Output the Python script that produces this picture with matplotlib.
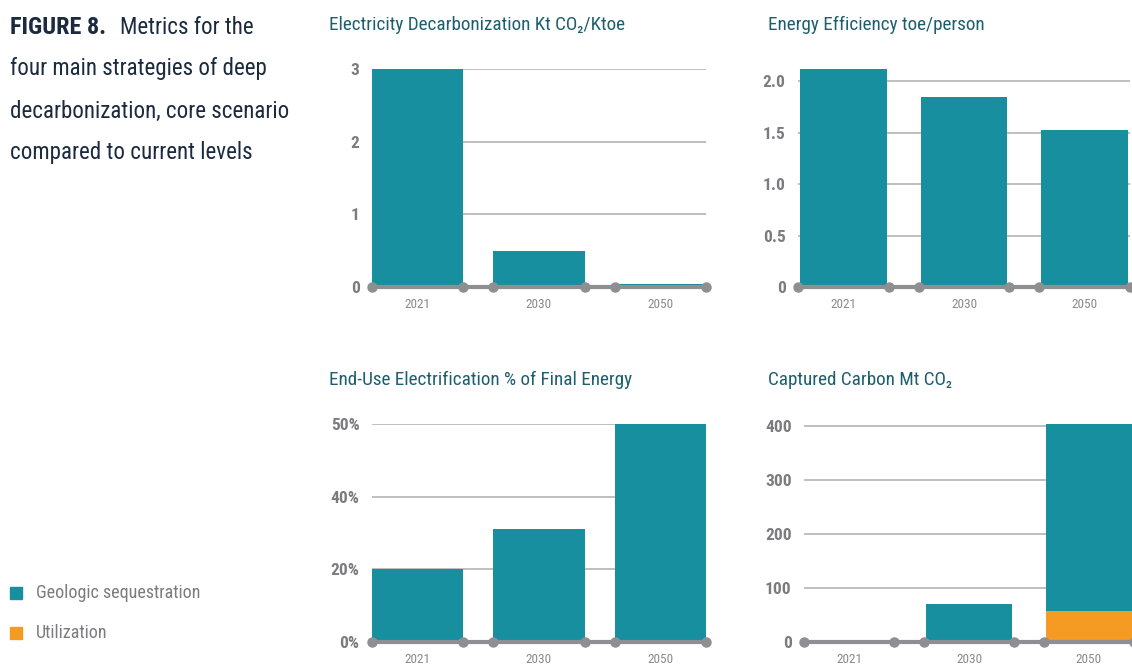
import matplotlib
matplotlib.use("Agg")
import matplotlib.pyplot as plt
from matplotlib import font_manager

years = ["2021", "2030", "2050"]

elec_decarb = [3.0, 0.50, 0.04]
energy_eff = [2.12, 1.85, 1.53]
electrification = [20, 31, 60]
geologic = [0, 70, 347]
utilization = [0, 0, 57]

elec_ticks = [0, 1, 2, 3]
elec_ticklabels = ["0", "1", "2", "3"]
eff_ticks = [0, 0.5, 1.0, 1.5, 2.0]
eff_ticklabels = ["0", "0.5", "1.0", "1.5", "2.0"]
electr_ticks = [0, 20, 40, 60]
electr_ticklabels = ["0%", "20%", "40%", "50%"]
carbon_ticks = [0, 100, 200, 300, 400]
carbon_ticklabels = ["0", "100", "200", "300", "400"]

TEAL = "#178f9f"
ORANGE = "#f59a23"
TITLE = "#1d5f6e"
NAVY = "#1b2a3f"
AXIS_GRAY = "#8e8e93"
GRID_GRAY = "#b4b4b4"
LABEL_GRAY = "#7c7c80"

installed = {f.name for f in font_manager.fontManager.ttflist}
narrow = [f for f in ["Liberation Sans Narrow", "Roboto Condensed", "Open Sans Condensed"] if f in installed]
FONT = narrow + ["Roboto", "DejaVu Sans"]
plt.rcParams["font.family"] = FONT

W, H = 1132, 666
fig = plt.figure(figsize=(W / 100, H / 100), dpi=100)


def add_panel(left, top, right, bottom, ymax, ticks, ticklabels):
    ax = fig.add_axes([left / W, 1 - bottom / H, (right - left) / W, (bottom - top) / H])
    ax.set_xlim(-0.375, 2.375)
    ax.set_ylim(0, ymax)
    for s in ax.spines.values():
        s.set_visible(False)
    ax.set_yticks(ticks)
    ax.set_yticklabels(ticklabels, fontsize=12.5, fontweight="bold", color=LABEL_GRAY)
    ax.set_xticks(range(len(years)))
    ax.set_xticklabels(years, fontsize=9.5, color="#8a8a8a")
    ax.tick_params(length=0, axis="y", pad=9)
    ax.tick_params(length=0, axis="x", pad=8)
    for t in ticks[1:]:
        ax.axhline(t, color=GRID_GRAY, lw=1.2, zorder=0)
    return ax


def finish_axis(ax):
    # base line with round markers at each bar edge
    ax.axhline(0, color=AXIS_GRAY, lw=3, zorder=4, clip_on=False)
    xs = []
    for i in range(len(years)):
        xs += [i - 0.375, i + 0.375]
    ax.plot(xs, [0] * len(xs), "o", color=AXIS_GRAY, ms=6.5, zorder=5, clip_on=False)


# Electricity decarbonization
ax1 = add_panel(372, 69, 706, 287, 3.0, elec_ticks, elec_ticklabels)
ax1.bar(range(3), elec_decarb, width=0.75, color=TEAL, zorder=2)
finish_axis(ax1)
fig.text(329 / W, 1 - 25 / H, "Electricity Decarbonization Kt CO\u2082/Ktoe",
         fontsize=13.8, color=TITLE, va="center", ha="left")

# Energy efficiency
ax2 = add_panel(798, 69, 1130, 287, 2.12, eff_ticks, eff_ticklabels)
ax2.bar(range(3), energy_eff, width=0.72, color=TEAL, zorder=2)
finish_axis(ax2)
fig.text(768 / W, 1 - 25 / H, "Energy Efficiency toe/person",
         fontsize=13.8, color=TITLE, va="center", ha="left")

# End-use electrification
ax3 = add_panel(372, 424, 706, 642, 60, electr_ticks, electr_ticklabels)
ax3.bar(range(3), electrification, width=0.75, color=TEAL, zorder=2)
finish_axis(ax3)
fig.text(329 / W, 1 - 380 / H, "End-Use Electrification % of Final Energy",
         fontsize=13.8, color=TITLE, va="center", ha="left")

# Captured carbon, stacked
ax4 = add_panel(804, 424, 1134, 642, 404, carbon_ticks, carbon_ticklabels)
ax4.bar(range(3), utilization, width=0.72, color=ORANGE, zorder=2)
ax4.bar(range(3), geologic, bottom=utilization, width=0.72, color=TEAL, zorder=2)
finish_axis(ax4)
fig.text(768 / W, 1 - 380 / H, "Captured Carbon Mt CO\u2082",
         fontsize=13.8, color=TITLE, va="center", ha="left")

# Figure caption
fig.text(10 / W, 1 - 27 / H, "FIGURE 8.", fontsize=17.5, fontweight="black",
         color=NAVY, va="center", ha="left")
fig.text(120 / W, 1 - 27 / H, "Metrics for the", fontsize=16.6,
         color=NAVY, va="center", ha="left")
for i, line in enumerate(["four main strategies of deep",
                          "decarbonization, core scenario",
                          "compared to current levels"]):
    fig.text(10 / W, 1 - (69 + 42 * i) / H, line, fontsize=16.6,
             color=NAVY, va="center", ha="left")

# Legend
for y, c, lbl in [(593, TEAL, "Geologic sequestration"), (633, ORANGE, "Utilization")]:
    fig.patches.append(plt.Rectangle((10 / W, 1 - (y + 6) / H), 12 / W, 12 / H,
                                     color=c, transform=fig.transFigure))
    fig.text(36 / W, 1 - y / H, lbl, fontsize=13, color=LABEL_GRAY,
             va="center", ha="left")

fig.savefig("out.png", dpi=100)
